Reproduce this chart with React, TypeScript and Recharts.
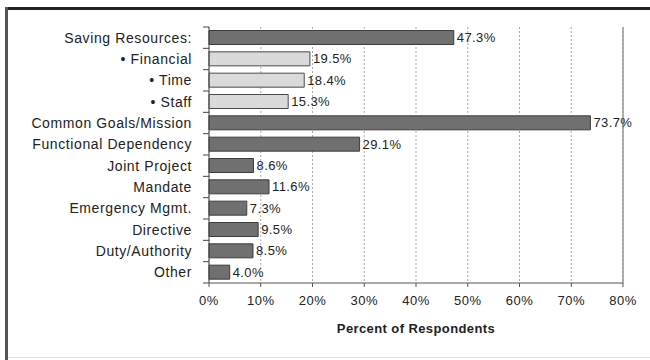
import React from 'react';
import { BarChart, Bar, XAxis, YAxis, CartesianGrid, Cell, LabelList, ReferenceLine } from 'recharts';

const categories = [
  'Saving Resources:',
  '• Financial',
  '• Time',
  '• Staff',
  'Common Goals/Mission',
  'Functional Dependency',
  'Joint Project',
  'Mandate',
  'Emergency Mgmt.',
  'Directive',
  'Duty/Authority',
  'Other',
];
const percents = [47.3, 19.5, 18.4, 15.3, 73.7, 29.1, 8.6, 11.6, 7.3, 9.5, 8.5, 4.0];
const subCategories = ['• Financial', '• Time', '• Staff'];
const xTicks = [0, 10, 20, 30, 40, 50, 60, 70, 80];

const data = categories.map((name, i) => ({ name, value: percents[i] }));

const font = '"Liberation Sans", Arial, sans-serif';

const CategoryTick = (props: any) => {
  const { x, y, payload, index, visibleTicksCount } = props;
  const half = payload.offset || 0;
  const axisX = x + 6;
  return (
    <g>
      <line x1={axisX - 6} x2={axisX} y1={y - half} y2={y - half} stroke="#444" />
      {index === visibleTicksCount - 1 && (
        <line x1={axisX - 6} x2={axisX} y1={y + half} y2={y + half} stroke="#444" />
      )}
      <text
        x={axisX - 17}
        y={y}
        dy={5}
        textAnchor="end"
        fontSize={14}
        letterSpacing={0.6}
        fill="#222"
        fontFamily={font}
      >
        {payload.value}
      </text>
    </g>
  );
};

export default function App() {
  return (
    <div style={{ position: 'absolute', left: 0, top: 0, width: 650, height: 360, background: '#fff' }}>
      <div style={{ position: 'absolute', left: 6, top: 7, width: 644, height: 3, background: '#222' }} />
      <div style={{ position: 'absolute', left: 5, top: 7, width: 3, height: 353, background: '#555' }} />
      <div style={{ position: 'absolute', left: 8, top: 357, width: 642, height: 1, background: '#ddd' }} />
      <div style={{ position: 'absolute', left: 0, top: 0 }}>
        <BarChart
          width={650}
          height={360}
          data={data}
          layout="vertical"
          margin={{ top: 27, right: 27, bottom: 47, left: 0 }}
          barCategoryGap={3.5}
          style={{ fontFamily: font }}
        >
          <CartesianGrid horizontal={false} vertical stroke="#aaa" strokeDasharray="2 2" />
          <XAxis
            type="number"
            domain={[0, 80]}
            ticks={xTicks}
            tickFormatter={(v: number) => `${v}%`}
            axisLine={{ stroke: '#555' }}
            tickLine={{ stroke: '#555' }}
            tickSize={4}
            tickMargin={9}
            tick={{ fontSize: 13, fill: '#222', fontFamily: font, letterSpacing: 0.5 }}
            interval={0}
            height={30}
            label={{
              value: 'Percent of Respondents',
              position: 'bottom',
              offset: 11,
              style: { fontSize: 13, fontWeight: 'bold', fill: '#222', fontFamily: font, letterSpacing: 0.4 },
            }}
          />
          <XAxis
            xAxisId="top"
            orientation="top"
            type="number"
            domain={[0, 80]}
            tick={false}
            tickLine={false}
            axisLine={{ stroke: '#aaa' }}
            height={0}
          />
          <YAxis
            type="category"
            dataKey="name"
            width={209}
            axisLine={{ stroke: '#444' }}
            tickLine={false}
            tick={<CategoryTick />}
            tickMargin={0}
            interval={0}
          />
          <ReferenceLine x={80} stroke="#999" strokeWidth={1.5} />
          <Bar dataKey="value" isAnimationActive={false} strokeWidth={1}>
            {data.map((d) => (
              <Cell
                key={d.name}
                fill={subCategories.includes(d.name) ? '#dadada' : '#707070'}
                stroke={subCategories.includes(d.name) ? '#4a4a4a' : '#3c3c3c'}
              />
            ))}
            <LabelList
              dataKey="value"
              position="right"
              offset={3}
              formatter={(v: number) => `${v.toFixed(1)}%`}
              style={{ fontSize: 13, fill: '#222', fontFamily: font, letterSpacing: 0.4 }}
            />
          </Bar>
        </BarChart>
      </div>
    </div>
  );
}
